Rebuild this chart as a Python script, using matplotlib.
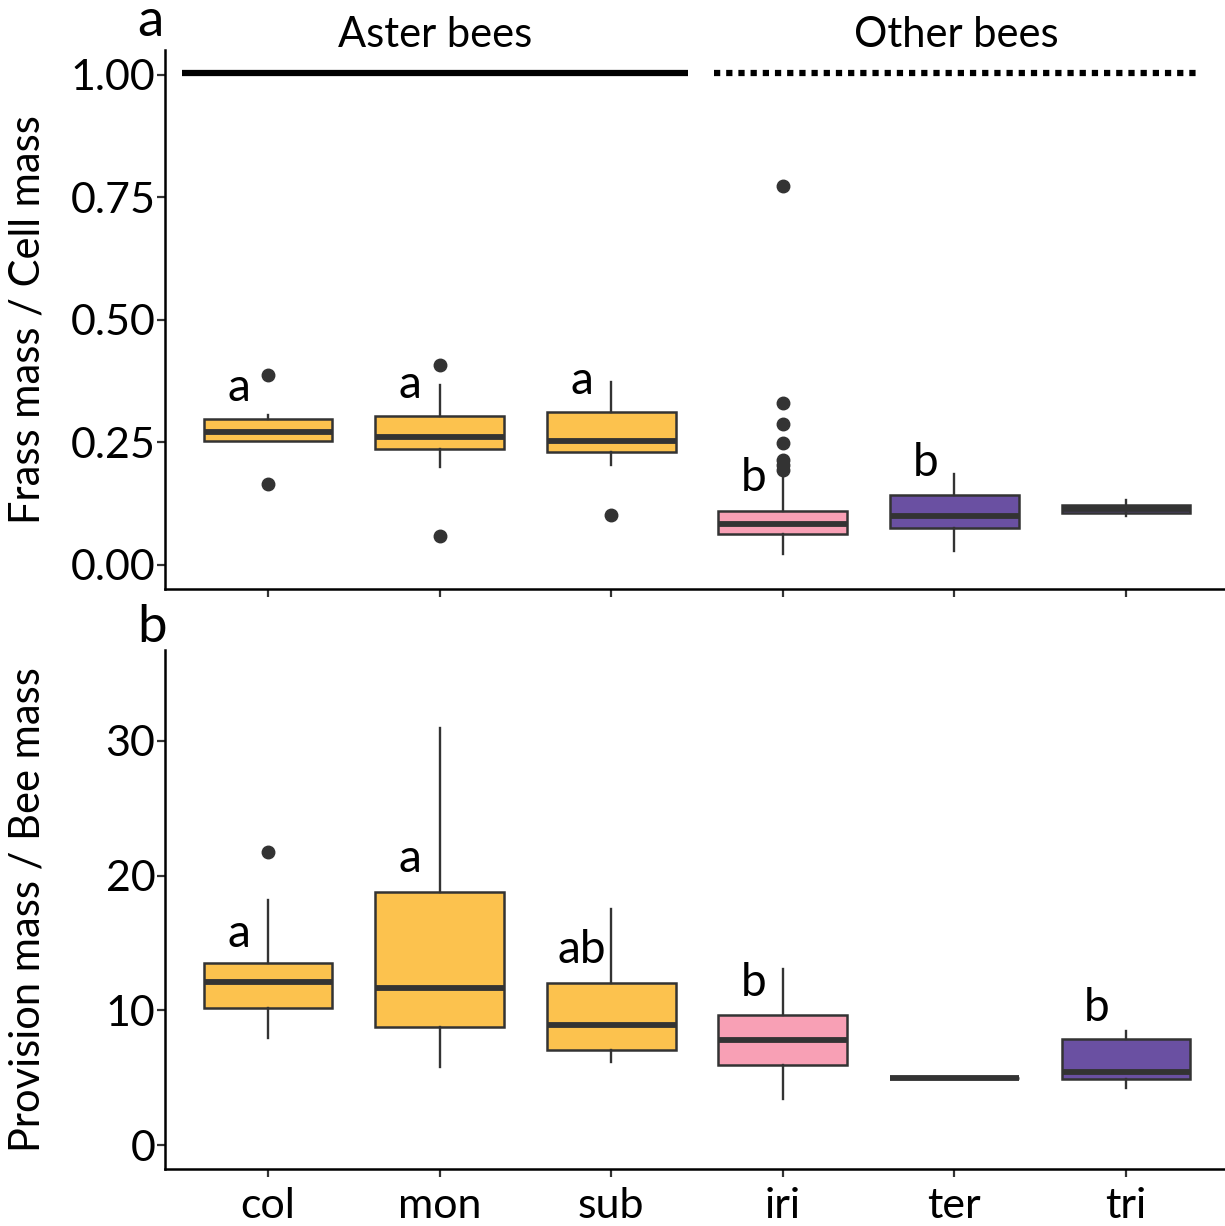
import matplotlib.pyplot as plt
import numpy as np

plt.rcParams['font.family'] = ['Lato', 'DejaVu Sans']

species = ['col', 'mon', 'sub', 'iri', 'ter', 'tri']
fills = ['#FCC24E', '#FCC24E', '#FCC24E', '#F8A0B5', '#6A50A2', '#6A50A2']

# panel a: frass mass / cell mass
frass_q1 = [0.253, 0.237, 0.231, 0.064, 0.075, 0.106]
frass_med = [0.271, 0.260, 0.253, 0.083, 0.100, 0.115]
frass_q3 = [0.298, 0.304, 0.312, 0.110, 0.142, 0.123]
frass_lo = [0.253, 0.200, 0.204, 0.023, 0.029, 0.099]
frass_hi = [0.305, 0.367, 0.373, 0.186, 0.186, 0.133]
frass_out = [[0.388, 0.165], [0.408, 0.059], [0.102],
             [0.773, 0.331, 0.288, 0.249, 0.214, 0.204, 0.194], [], []]
frass_letters = ['a', 'a', 'a', 'b', 'b', '']
frass_letter_y = [0.361, 0.367, 0.375, 0.178, 0.208, 0]

# panel b: provision mass / bee mass
prov_q1 = [10.17, 8.76, 7.05, 5.94, 4.97, 4.9]
prov_med = [12.1, 11.65, 8.9, 7.8, 4.97, 5.4]
prov_q3 = [13.5, 18.8, 12.0, 9.65, 4.97, 7.9]
prov_lo = [7.94, 5.8, 6.2, 3.4, 4.97, 4.2]
prov_hi = [18.2, 30.96, 17.5, 13.07, 4.97, 8.5]
prov_out = [[21.75], [], [], [], [], []]
prov_letters = ['a', 'a', 'ab', 'b', '', 'b']
prov_letter_y = [15.7, 21.2, 14.5, 12.0, 0, 10.2]

groups = ['Aster bees', 'Other bees']
group_span = [(0.5, 3.45), (3.6, 6.42)]
group_style = ['-', (0, (1, 0.95))]

dark = '#333333'
fs_tick = 31
fs_lab = 30
fs_let = 33
W, H = 1225, 1226

fig = plt.figure(figsize=(W / 100, H / 100), dpi=100)
ax1 = fig.add_axes([165 / W, 1 - 589.5 / H, 1064 / W, 539.5 / H])
ax2 = fig.add_axes([165 / W, 1 - 1168.6 / H, 1064 / W, 518.6 / H])


def draw(ax, q1, med, q3, lo, hi, out):
    stats = []
    for i in range(len(species)):
        stats.append(dict(q1=q1[i], med=med[i], q3=q3[i], whislo=lo[i],
                          whishi=hi[i], fliers=out[i]))
    bp = ax.bxp(stats, positions=np.arange(1, 7), widths=0.75,
                patch_artist=True, showcaps=False,
                boxprops=dict(edgecolor=dark, linewidth=1.8),
                whiskerprops=dict(color=dark, linewidth=1.7),
                medianprops=dict(color=dark, linewidth=4.2, solid_capstyle='butt'),
                flierprops=dict(marker='o', markerfacecolor=dark,
                                markeredgecolor=dark, markersize=9))
    for patch, c in zip(bp['boxes'], fills):
        patch.set_facecolor(c)
    for m in bp['medians']:
        m.set_zorder(3)
    ax.set_xlim(0.4, 6.6)
    ax.set_xticks(np.arange(1, 7))
    for s in ['top', 'right']:
        ax.spines[s].set_visible(False)
    for s in ['left', 'bottom']:
        ax.spines[s].set_linewidth(1.8)
        ax.spines[s].set_color('black')
    ax.tick_params(length=6, width=1.6, color=dark, labelsize=fs_tick,
                   labelcolor='black')
    ax.tick_params(axis='y', pad=1)
    ax.tick_params(axis='x', pad=7)
    ax.yaxis.set_label_coords(-0.111, 0.5)


draw(ax1, frass_q1, frass_med, frass_q3, frass_lo, frass_hi, frass_out)
draw(ax2, prov_q1, prov_med, prov_q3, prov_lo, prov_hi, prov_out)

ax1.set_ylim(-0.05, 1.05)
ax1.set_yticks([0, 0.25, 0.5, 0.75, 1.0])
ax1.set_yticklabels(['0.00', '0.25', '0.50', '0.75', '1.00'])
ax1.set_xticklabels([])
ax1.set_ylabel('Frass mass / Cell mass', fontsize=fs_lab)

ax2.set_ylim(-1.75, 36.75)
ax2.set_yticks([0, 10, 20, 30])
ax2.set_xticklabels(species)
ax2.set_ylabel('Provision mass / Bee mass', fontsize=fs_lab)

for i in range(len(species)):
    if frass_letters[i]:
        ax1.text(i + 1 - 0.17, frass_letter_y[i], frass_letters[i],
                 fontsize=fs_let, ha='center', va='center')
    if prov_letters[i]:
        ax2.text(i + 1 - 0.17, prov_letter_y[i], prov_letters[i],
                 fontsize=fs_let, ha='center', va='center')

for g, (x0, x1), ls in zip(groups, group_span, group_style):
    ax1.plot([x0, x1], [1.004, 1.004], color='black', linewidth=4.5,
             linestyle=ls, clip_on=False, solid_capstyle='butt',
             dash_capstyle='butt')
    ax1.text((x0 + x1) / 2, 1.08, g, fontsize=fs_lab, ha='center',
             va='center', clip_on=False)

fig.text(150 / W, 1 - 22 / H, 'a', fontsize=38, ha='center', va='center')
fig.text(152 / W, 1 - 628 / H, 'b', fontsize=38, ha='center', va='center')

fig.savefig('out.png', dpi=100, facecolor='white')
